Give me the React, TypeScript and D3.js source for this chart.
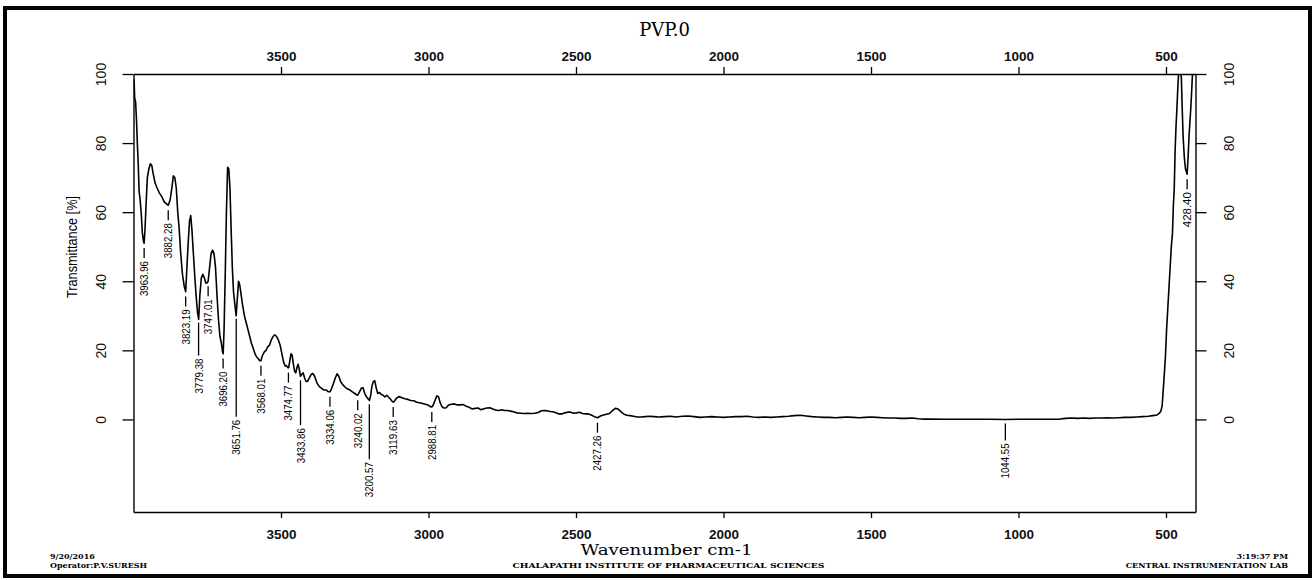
import { useEffect, useRef } from 'react';
import * as d3 from 'd3';

const W = 1315;
const H = 580;
const M = { left: 133.5, top: 74, right: 1195.5, bottom: 512 };

const TITLE = 'PVP.0';
const X_LABEL = 'Wavenumber cm-1';
const Y_LABEL = 'Transmittance [%]';
const X_TICKS = [3500, 3000, 2500, 2000, 1500, 1000, 500];
const Y_TICKS = [0, 20, 40, 60, 80, 100];
const FOOTER_LEFT = ['9/20/2016', 'Operator:P.V.SURESH'];
const FOOTER_CENTER = 'CHALAPATHI INSTITUTE OF PHARMACEUTICAL SCIENCES';
const FOOTER_RIGHT = ['3:19:37 PM', 'CENTRAL INSTRUMENTATION LAB'];

// picked peak labels (wavenumber, cm-1)
const PEAKS = [
  '3963.96', '3882.28', '3823.19', '3779.38', '3747.01', '3696.20', '3651.76',
  '3568.01', '3474.77', '3433.86', '3334.06', '3240.02', '3200.57', '3119.63',
  '2988.81', '2427.26', '1044.55', '428.40',
];

// [wavenumber, transmittance %]
const SPECTRUM: [number, number][] = [
  [3998, 98.5], [3996, 93], [3993, 92], [3990, 87], [3987, 80], [3984, 74],
  [3981, 66], [3978, 64], [3974, 60], [3970, 54], [3966, 51.5], [3964, 51],
  [3961, 55], [3957, 63], [3953, 70], [3948, 72.5], [3943, 74], [3938, 73.5],
  [3933, 71], [3927, 68.5], [3920, 67], [3912, 65.5], [3904, 64.5], [3896, 63],
  [3889, 62.5], [3882, 62], [3876, 63.5], [3870, 67], [3865, 70.5], [3860, 70],
  [3855, 67], [3850, 60], [3845, 55], [3840, 48], [3834, 42], [3828, 38.5],
  [3823, 37], [3819, 44], [3814, 52], [3810, 57.5], [3806, 59], [3802, 55],
  [3797, 48], [3792, 41], [3787, 35], [3783, 31], [3779, 29], [3775, 36],
  [3770, 41], [3765, 42], [3760, 41], [3755, 39.5], [3750, 39.5], [3747, 40],
  [3742, 44], [3737, 48], [3732, 49], [3727, 48], [3722, 44], [3717, 36],
  [3712, 29], [3707, 24], [3702, 22], [3698, 19.5], [3696, 19], [3693, 26],
  [3689, 42], [3685, 60], [3681, 73], [3677, 72.5], [3673, 67], [3669, 55],
  [3665, 44], [3661, 37], [3656, 33], [3652, 30], [3648, 35], [3644, 40],
  [3640, 39], [3635, 36], [3630, 33], [3624, 30], [3618, 28], [3612, 26],
  [3606, 24], [3600, 22], [3594, 20.5], [3588, 19], [3582, 18], [3576, 17.5],
  [3572, 17], [3568, 17], [3563, 18.5], [3557, 19.5], [3551, 20], [3545, 21],
  [3539, 21.5], [3533, 23], [3527, 24], [3521, 24.5], [3515, 24], [3509, 23],
  [3503, 21.5], [3497, 19], [3491, 16.5], [3486, 15.5], [3481, 15.5], [3477, 15],
  [3474, 15], [3470, 17], [3466, 19], [3462, 18.5], [3458, 16], [3454, 14],
  [3450, 13.5], [3446, 15], [3442, 16], [3438, 14.5], [3434, 12.5], [3430, 13],
  [3425, 13.5], [3420, 12], [3415, 11], [3410, 11], [3404, 12], [3398, 13],
  [3392, 13.3], [3386, 12.5], [3378, 10.5], [3370, 9.5], [3362, 9], [3354, 8.5],
  [3346, 8.5], [3340, 8], [3334, 8], [3328, 9], [3322, 10.5], [3316, 12],
  [3310, 13.2], [3304, 12.5], [3298, 11], [3290, 10], [3282, 9.3], [3274, 8.8],
  [3266, 8.5], [3258, 8], [3250, 7.5], [3245, 7.2], [3240, 7], [3234, 8],
  [3228, 9], [3222, 9.2], [3216, 7.5], [3210, 6.5], [3205, 6], [3200, 5.5],
  [3196, 7], [3192, 9.5], [3187, 11], [3182, 11.2], [3177, 9], [3172, 7.5],
  [3166, 7.8], [3160, 7.2], [3154, 7], [3148, 6.5], [3142, 7], [3136, 6.5],
  [3130, 6], [3124, 5.3], [3119, 5], [3114, 5.5], [3108, 6.2], [3100, 6.6],
  [3090, 6.3], [3080, 6], [3070, 5.8], [3060, 5.5], [3050, 5.4], [3040, 5],
  [3030, 4.8], [3020, 4.6], [3010, 4.4], [3000, 4.1], [2994, 3.7], [2989, 3.6],
  [2984, 4.2], [2978, 5.5], [2972, 6.8], [2966, 6.6], [2961, 5], [2955, 3.8],
  [2948, 3.3], [2940, 3.4], [2932, 4.2], [2922, 4.4], [2912, 4.5], [2902, 4.2],
  [2892, 4.2], [2882, 4.3], [2872, 3.8], [2862, 3.5], [2852, 3], [2842, 3.2],
  [2832, 3.3], [2822, 2.8], [2812, 3.1], [2802, 3.3], [2792, 3.4], [2782, 3],
  [2772, 2.7], [2762, 2.6], [2752, 2.8], [2742, 2.6], [2732, 2.6], [2722, 2.4],
  [2712, 2.2], [2700, 1.9], [2688, 1.8], [2676, 1.7], [2664, 1.8], [2652, 1.7],
  [2640, 1.8], [2628, 2], [2618, 2.5], [2608, 2.6], [2598, 2.5], [2588, 2.3],
  [2578, 2.2], [2568, 1.9], [2558, 1.6], [2548, 1.6], [2538, 1.9], [2528, 2.1],
  [2518, 2.1], [2508, 1.8], [2498, 1.9], [2488, 2.1], [2478, 1.7], [2468, 1.6],
  [2458, 1.6], [2448, 1.3], [2438, 0.8], [2427, 0.5], [2417, 1], [2407, 1.3],
  [2397, 1.5], [2387, 1.7], [2377, 2.5], [2367, 3.2], [2357, 3], [2347, 2.2],
  [2337, 1.5], [2327, 1.2], [2317, 1.1], [2305, 0.9], [2293, 0.7], [2280, 0.7],
  [2265, 0.8], [2250, 0.9], [2235, 0.8], [2220, 0.7], [2200, 0.8], [2180, 0.9],
  [2160, 0.7], [2140, 0.9], [2120, 1], [2100, 0.8], [2080, 0.6], [2060, 0.7],
  [2040, 0.8], [2020, 0.7], [2000, 0.6], [1980, 0.7], [1960, 0.8], [1940, 0.8],
  [1920, 0.9], [1900, 0.7], [1880, 0.6], [1860, 0.7], [1840, 0.6], [1820, 0.7],
  [1800, 0.8], [1780, 0.9], [1760, 1.1], [1740, 1.2], [1720, 1], [1700, 0.8],
  [1680, 0.7], [1660, 0.6], [1640, 0.6], [1620, 0.5], [1600, 0.6], [1580, 0.7],
  [1560, 0.6], [1540, 0.5], [1520, 0.6], [1500, 0.7], [1480, 0.6], [1460, 0.5],
  [1440, 0.4], [1420, 0.4], [1400, 0.3], [1380, 0.3], [1360, 0.4], [1340, 0.2],
  [1320, 0.1], [1300, 0.1], [1250, 0.05], [1200, 0.05], [1150, 0.05], [1100, 0.05],
  [1044, 0], [1000, 0.05], [950, 0.05], [900, 0.05], [860, 0.1], [840, 0.3],
  [820, 0.4], [800, 0.3], [780, 0.4], [760, 0.3], [740, 0.4], [720, 0.4],
  [700, 0.5], [680, 0.4], [660, 0.5], [640, 0.6], [620, 0.6], [600, 0.7],
  [580, 0.8], [560, 0.9], [545, 1.1], [530, 1.3], [522, 1.8], [517, 2.5],
  [513, 4], [509, 9], [505, 14], [502, 18], [498, 26], [494, 32], [490, 38],
  [486, 44], [482, 50], [478, 54], [475, 62], [472, 67], [469, 78], [466, 85],
  [463, 90], [460, 96], [457, 100.5], [452, 101], [448, 99], [445, 90],
  [442, 82], [438, 76], [434, 72.5], [430, 71.5], [428.4, 71], [425, 76],
  [422, 82], [419, 86], [416, 90], [413, 95], [410, 100.5], [405, 101], [401, 101],
];

// extra leader length (px) for labels pushed down to avoid their neighbours
const LEADER_EXTRA: Record<string, number> = {
  '3779.38': 22, '3651.76': 87, '3433.86': 34, '3200.57': 44, '1044.55': 6,
};

const x = d3.scaleLinear().domain([4000, 400]).range([M.left, M.right]);
const y = d3.scaleLinear().domain([-26.8, 100]).range([M.bottom, M.top]);

const byWave = d3.bisector((d: [number, number]) => -d[0]).left;
function tAt(w: number) {
  const i = Math.min(Math.max(byWave(SPECTRUM, -w), 1), SPECTRUM.length - 1);
  const a = SPECTRUM[i - 1], b = SPECTRUM[i];
  const k = (a[0] - w) / (a[0] - b[0]);
  return a[1] + (b[1] - a[1]) * k;
}

const SANS = '"Liberation Sans", Arial, sans-serif';
const NARROW = '"Liberation Sans Narrow", "Arial Narrow", "Liberation Sans", sans-serif';
const SERIF = '"DejaVu Serif", "Liberation Serif", serif';

export default function App() {
  const topRef = useRef<SVGGElement>(null);
  const botRef = useRef<SVGGElement>(null);
  const leftRef = useRef<SVGGElement>(null);
  const rightRef = useRef<SVGGElement>(null);

  useEffect(() => {
    const style = (g: d3.Selection<SVGGElement, unknown, null, undefined>) => {
      g.attr('font-family', SANS).attr('font-size', 14);
      g.selectAll('.domain').attr('stroke', '#000').attr('stroke-width', 1.4);
      g.selectAll('.tick line').attr('stroke', '#000').attr('stroke-width', 1.3);
      g.selectAll('.tick text').attr('fill', '#111');
    };

    const top = d3.select(topRef.current!);
    top.call(d3.axisTop(x).tickValues(X_TICKS).tickSize(7).tickSizeOuter(0).tickFormat(d3.format('d')));
    style(top);
    top.selectAll('.tick text').attr('y', -13).attr('dy', 0).attr('font-weight', 'bold').attr('font-size', 13.5);

    const bot = d3.select(botRef.current!);
    bot.call(d3.axisBottom(x).tickValues(X_TICKS).tickSize(6).tickSizeOuter(0).tickFormat(d3.format('d')));
    style(bot);
    bot.selectAll('.tick text').attr('y', 27).attr('dy', 0).attr('font-weight', 'bold').attr('font-size', 13.5);

    const left = d3.select(leftRef.current!);
    left.call(d3.axisLeft(y).tickValues(Y_TICKS).tickSize(11).tickSizeOuter(0));
    style(left);
    left.selectAll('.tick text')
      .attr('transform', 'rotate(-90)')
      .attr('text-anchor', 'middle')
      .attr('font-family', NARROW)
      .attr('font-size', 14)
      .attr('x', 0).attr('y', -32).attr('dy', '0.35em');

    const right = d3.select(rightRef.current!);
    right.call(d3.axisRight(y).tickValues(Y_TICKS).tickSize(11).tickSizeOuter(0));
    style(right);
    right.selectAll('.tick text')
      .attr('transform', 'rotate(-90)')
      .attr('text-anchor', 'middle')
      .attr('font-family', NARROW)
      .attr('font-size', 14)
      .attr('x', 0).attr('y', 34).attr('dy', '0.35em');
  }, []);

  const line = d3.line<[number, number]>().x((d) => x(d[0])).y((d) => y(d[1]));
  const cx = (M.left + M.right) / 2;

  return (
    <svg width={W} height={H} style={{ position: 'fixed', left: 0, top: 0, background: '#fff' }}>
      <rect x={0} y={0} width={W} height={H} fill="#fff" />
      <rect x={5} y={8} width={1305} height={568} fill="none" stroke="#000" strokeWidth={4} />

      <text x={cx} y={36} textAnchor="middle" fontFamily={SERIF} fontSize={18}>{TITLE}</text>

      <defs>
        <clipPath id="plot">
          <rect x={M.left} y={M.top} width={M.right - M.left} height={M.bottom - M.top} />
        </clipPath>
      </defs>

      <g clipPath="url(#plot)">
        <path d={line(SPECTRUM) ?? ''} fill="none" stroke="#000" strokeWidth={1.6} strokeLinejoin="round" />
      </g>

      <g ref={topRef} transform={`translate(0,${M.top})`} />
      <g ref={botRef} transform={`translate(0,${M.bottom})`} />
      <g ref={leftRef} transform={`translate(${M.left},0)`} />
      <g ref={rightRef} transform={`translate(${M.right},0)`} />

      {PEAKS.map((p) => {
        const w = parseFloat(p);
        const px = x(w);
        const cy = y(tAt(w));
        const extra = LEADER_EXTRA[p] ?? 0;
        const textTop = cy + 18 + extra;
        return (
          <g key={p}>
            <line x1={px} x2={px} y1={cy + 5 + (extra ? -1 : 0)} y2={extra ? textTop - 3 : cy + 15}
              stroke="#000" strokeWidth={1.3} />
            <text transform={`translate(${px},${textTop}) rotate(-90)`} textAnchor="end" dy="0.35em"
              fontFamily={NARROW} fontSize={11.5} textLength={35} lengthAdjust="spacingAndGlyphs">{p}</text>
          </g>
        );
      })}

      <text transform={`translate(72,247) rotate(-90)`} textAnchor="middle" dy="0.35em"
        fontFamily={NARROW} fontSize={15} textLength={102} lengthAdjust="spacingAndGlyphs">{Y_LABEL}</text>

      <text x={cx + 2} y={555} textAnchor="middle" fontFamily={SERIF} fontSize={15}
        textLength={172} lengthAdjust="spacingAndGlyphs">{X_LABEL}</text>

      <g fontFamily={SERIF} fontSize={8} fontWeight="bold">
        <text x={50} y={559}>{FOOTER_LEFT[0]}</text>
        <text x={50} y={568}>{FOOTER_LEFT[1]}</text>
        <text x={cx + 4} y={568} textAnchor="middle" textLength={312} lengthAdjust="spacingAndGlyphs">{FOOTER_CENTER}</text>
        <text x={1288} y={559} textAnchor="end">{FOOTER_RIGHT[0]}</text>
        <text x={1288} y={568} textAnchor="end">{FOOTER_RIGHT[1]}</text>
      </g>
    </svg>
  );
}
